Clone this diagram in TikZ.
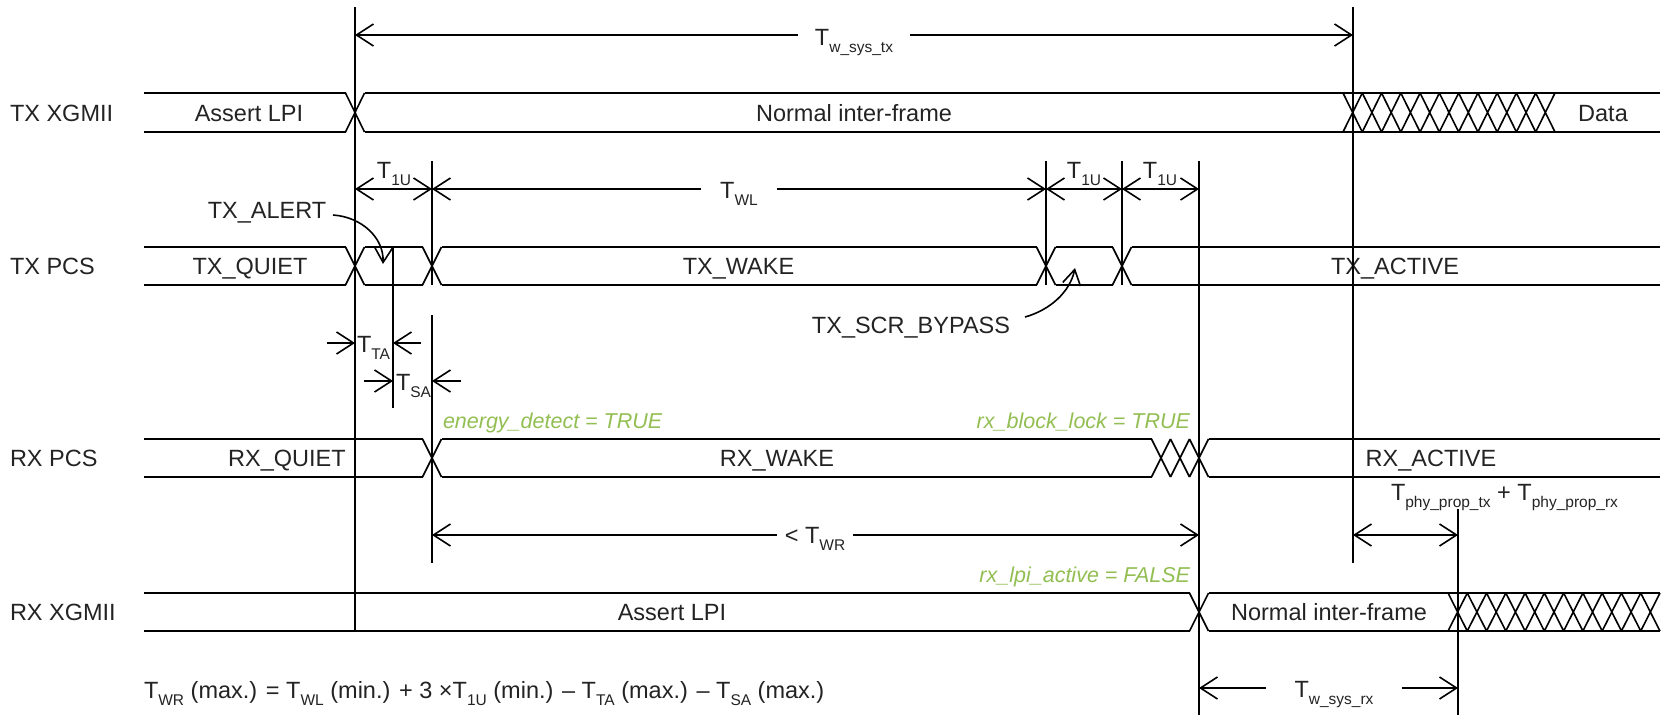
\documentclass[tikz,border=0pt]{standalone}
\usepackage{fontspec}
\setmainfont{Liberation Sans}
\usetikzlibrary{arrows.meta}
\definecolor{cond}{RGB}{146,190,82}
\definecolor{ink}{RGB}{35,35,35}
\newcommand{\lowsub}[1]{\raisebox{-7pt}{\fontsize{15.5}{15.5}\selectfont #1}}
\newcommand{\busx}[3]{\draw[wire] ({#1-9.5},#2) -- ({#1+9.5},#3) ({#1-9.5},#3) -- ({#1+9.5},#2);}
\newcommand{\hatch}[5]{% start, step, count-1, top, bottom
  \draw[wire] \foreach \i in {0,...,#3} {({#1+\i*#2},#4) -- ({#1+(\i+1)*#2},#5) ({#1+\i*#2},#5) -- ({#1+(\i+1)*#2},#4)};}
\tikzset{
  wire/.style={line width=1.6pt, line join=round},
  vline/.style={line width=1.5pt},
  txt/.style={inner sep=0pt, outer sep=0pt, text=ink, font=\fontsize{23.5}{28}\selectfont},
  cnd/.style={txt, text=cond, font=\fontsize{21.5}{26}\selectfont\itshape},
  dimarrow/.style={line width=1.6pt, -{Straight Barb[length=17pt,width=22pt]}},
  dimboth/.style={line width=1.6pt, {Straight Barb[length=17pt,width=22pt]}-{Straight Barb[length=17pt,width=22pt]}},
  callout/.style={line width=1.6pt, -{Straight Barb[length=15pt,width=18pt]}},
}
\begin{document}
\begin{tikzpicture}[x=1pt,y=-1pt]
\useasboundingbox (0,0) rectangle (1665,715);

% ---------- signal names ----------
\node[txt, anchor=base west] (nTXX) at (10,121) {TX XGMII};
\node[txt, anchor=base west] (nTXP) at (10,274.5) {TX PCS};
\node[txt, anchor=base west] (nRXP) at (10,466.5) {RX PCS};
\node[txt, anchor=base west] (nRXX) at (10,620) {RX XGMII};

% ---------- TX XGMII (93/132) ----------
\draw[wire] (144,93) -- (345.5,93) (364.5,93) -- (1660,93);
\draw[wire] (144,132) -- (345.5,132) (364.5,132) -- (1660,132);
\busx{355}{93}{132}
\hatch{1343}{19.27}{10}{93}{132}
\node[txt, anchor=base] (sAL1) at (249,121) {Assert LPI};
\node[txt, anchor=base] (sNI1) at (854,121) {Normal inter-frame};
\node[txt, anchor=base] (sDat) at (1603,121) {Data};

% ---------- TX PCS (247/285) ----------
\draw[wire] (144,247) -- (345.5,247) (364.5,247) -- (422.5,247) (441.5,247) -- (1036.5,247)
            (1055.5,247) -- (1112.5,247) (1131.5,247) -- (1660,247);
\draw[wire] (144,285) -- (345.5,285) (364.5,285) -- (422.5,285) (441.5,285) -- (1036.5,285)
            (1055.5,285) -- (1112.5,285) (1131.5,285) -- (1660,285);
\busx{355}{247}{285}
\busx{432}{247}{285}
\busx{1046}{247}{285}
\busx{1122}{247}{285}
\node[txt, anchor=base] (sTQ) at (250,274.5) {TX\_QUIET};
\node[txt, anchor=base] (sTW) at (738.5,274.5) {TX\_WAKE};
\node[txt, anchor=base] (sTA) at (1395,274.5) {TX\_ACTIVE};

% ---------- RX PCS (439/477) ----------
\draw[wire] (144,439) -- (422.5,439) (441.5,439) -- (1151.5,439) (1208.5,439) -- (1660,439);
\draw[wire] (144,477) -- (422.5,477) (441.5,477) -- (1151.5,477) (1208.5,477) -- (1660,477);
\busx{432}{439}{477}
\hatch{1151.5}{19}{2}{439}{477}
\node[txt, anchor=base] (sRQ) at (287,466.5) {RX\_QUIET};
\node[txt, anchor=base] (sRW) at (777,466.5) {RX\_WAKE};
\node[txt, anchor=base] (sRA) at (1431,466.5) {RX\_ACTIVE};

% ---------- RX XGMII (593/631) ----------
\draw[wire] (144,593) -- (1189.5,593) (1208.5,593) -- (1660,593);
\draw[wire] (144,631) -- (1189.5,631) (1208.5,631) -- (1660,631);
\busx{1199}{593}{631}
\hatch{1448}{19.27}{10}{593}{631}
\node[txt, anchor=base] (sAL2) at (672,620) {Assert LPI};
\node[txt, anchor=base] (sNI2) at (1329,620) {Normal inter-frame};

% ---------- vertical time markers ----------
\coordinate (v0t) at (355,7);    \coordinate (v0b) at (355,631);
\coordinate (vat) at (393,247);  \coordinate (vab) at (393,408);
\coordinate (v1t) at (432,161);  \coordinate (v1m) at (432,285);
\coordinate (v1u) at (432,315);  \coordinate (v1b) at (432,563);
\coordinate (v2t) at (1046,161); \coordinate (v2b) at (1046,285);
\coordinate (v3t) at (1122,161); \coordinate (v3b) at (1122,285);
\coordinate (v4t) at (1199,161); \coordinate (v4b) at (1199,715);
\coordinate (v5t) at (1353,7);   \coordinate (v5b) at (1353,563);
\coordinate (v6t) at (1458,509); \coordinate (v6b) at (1458,715);
\draw[vline] (v0t) -- (v0b);
\draw[vline] (vat) -- (vab);
\draw[vline] (v1t) -- (v1m) (v1u) -- (v1b);
\draw[vline] (v2t) -- (v2b);
\draw[vline] (v3t) -- (v3b);
\draw[vline] (v4t) -- (v4b);
\draw[vline] (v5t) -- (v5b);
\draw[vline] (v6t) -- (v6b);

% ---------- T_w_sys_tx ----------
\coordinate (wtxL) at (355,35);
\coordinate (wtxR) at (1353,35);
\node[txt, anchor=base, inner xsep=17pt] (wtx) at (854,45) {T\lowsub{w\_sys\_tx}};
\draw[dimarrow] (wtx.west |- wtxL) -- (wtxL);
\draw[dimarrow] (wtx.east |- wtxR) -- (wtxR);

% ---------- T1U / TWL ----------
\coordinate (a0) at (355,189);
\coordinate (a1) at (432,189);
\coordinate (a2) at (1046,189);
\coordinate (a3) at (1122,189);
\coordinate (a4) at (1199,189);
\draw[dimboth] (a0) -- (a1);
\node[txt, anchor=base] (t1a) at (394,178) {T\lowsub{1U}};
\node[txt, anchor=base, inner xsep=19pt] (twl) at (739,198) {T\lowsub{WL}};
\draw[dimarrow] (twl.west |- a1) -- (a1);
\draw[dimarrow] (twl.east |- a2) -- (a2);
\draw[dimboth] (a2) -- (a3);
\node[txt, anchor=base] (t1b) at (1084,178) {T\lowsub{1U}};
\draw[dimboth] (a3) -- (a4);
\node[txt, anchor=base] (t1c) at (1160,178) {T\lowsub{1U}};

% ---------- TTA / TSA ----------
\coordinate (taL) at (355,343);
\coordinate (taR) at (393,343);
\coordinate (taLo) at (327,343);
\coordinate (taRo) at (421,343);
\draw[dimarrow] (taLo) -- (taL);
\draw[dimarrow] (taRo) -- (taR);
\node[txt, anchor=base west] (tta) at (357,352) {T\lowsub{TA}};
\coordinate (saL) at (393,381);
\coordinate (saR) at (432,381);
\coordinate (saLo) at (364,381);
\coordinate (saRo) at (461,381);
\draw[dimarrow] (saLo) -- (saL);
\draw[dimarrow] (saRo) -- (saR);
\node[txt, anchor=base west] (tsa) at (396,390) {T\lowsub{SA}};

% ---------- conditions ----------
\node[cnd, anchor=base west] (ced) at (443,428) {energy\_detect = TRUE};
\node[cnd, anchor=base east] (cbl) at (1190,428) {rx\_block\_lock = TRUE};
\node[cnd, anchor=base east] (cla) at (1190,582) {rx\_lpi\_active = FALSE};

% ---------- TWR ----------
\coordinate (wrL) at (432,535);
\coordinate (wrR) at (1199,535);
\node[txt, anchor=base, inner xsep=8pt] (twr) at (815,543) {< T\lowsub{WR}};
\draw[dimarrow] (twr.west |- wrL) -- (wrL);
\draw[dimarrow] (twr.east |- wrR) -- (wrR);

% ---------- Tphy ----------
\coordinate (phL) at (1353,535);
\coordinate (phR) at (1458,535);
\draw[dimboth] (phL) -- (phR);
\node[txt, anchor=base west] (tph) at (1391,500) {T\lowsub{phy\_prop\_tx} + T\lowsub{phy\_prop\_rx}};

% ---------- T_w_sys_rx ----------
\coordinate (wrxL) at (1199,688);
\coordinate (wrxR) at (1458,688);
\node[txt, anchor=base, inner xsep=29pt] (wrx) at (1334,697) {T\lowsub{w\_sys\_rx}};
\draw[dimarrow] (wrx.west |- wrxL) -- (wrxL);
\draw[dimarrow] (wrx.east |- wrxR) -- (wrxR);

% ---------- callouts ----------
\node[txt, anchor=base] (lal) at (267,218) {TX\_ALERT};
\coordinate (altip) at (383,264);
\draw[callout] (333,215) .. controls (362,217) and (384,238) .. (altip);
\node[txt, anchor=base] (lsb) at (911,333) {TX\_SCR\_BYPASS};
\coordinate (sbtip) at (1075,268);
\draw[callout] (1025,317) .. controls (1050,310) and (1070,292) .. (sbtip);

% ---------- formula ----------
\node[txt, anchor=base west] (form) at (144,698)
  {T\lowsub{WR} (max.) = T\lowsub{WL} (min.) + 3 \texttimes T\lowsub{1U} (min.) \textendash{} T\lowsub{TA} (max.) \textendash{} T\lowsub{SA} (max.)};
\end{tikzpicture}
\end{document}
